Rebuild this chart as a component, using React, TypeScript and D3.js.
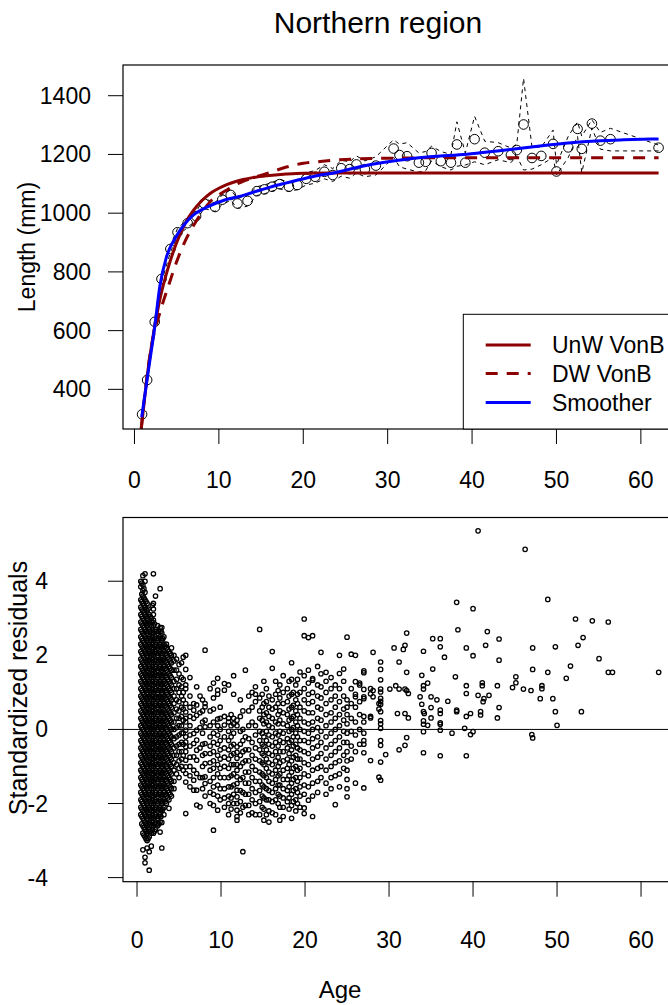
import React from 'react';
import * as d3 from 'd3';

// mean length at age (circles) with upper / lower bounds (dashed)
const meanAge = [0.9, 1.5, 2.4, 3.2, 4.25, 5.1, 6.3, 7.3, 8.25, 9.55, 10.4, 11.4, 12.2, 13.4, 14.5, 15.4, 16.3, 17.2, 18.3, 19.3,
  20.35, 21.4, 22.5, 23.5, 24.5, 25.5, 26.3, 27.3, 28.6, 30.7, 31.4, 32.3, 33.7, 34.5, 35.2, 36.3, 37.5, 38.2, 39.2, 40.3,
  41.5, 43.1, 44.6, 45.3, 46.1, 47.1, 48.2, 49.6, 50.0, 51.4, 52.5, 53.0, 54.2, 55.2, 56.4, 62.1];
const meanLen = [315, 432, 630, 776, 878, 935, 966, 990, 1033, 1021, 1046, 1062, 1033, 1042, 1075, 1081, 1090, 1099, 1090, 1096,
  1117, 1124, 1141, 1130, 1153, 1150, 1166, 1150, 1162, 1220, 1198, 1194, 1172, 1175, 1205, 1177, 1172, 1234, 1172, 1252,
  1206, 1211, 1198, 1215, 1302, 1188, 1195, 1236, 1142, 1224, 1287, 1219, 1305, 1247, 1252, 1223];
const upperLen = [322, 440, 640, 786, 890, 948, 980, 1005, 1050, 1036, 1062, 1080, 1050, 1060, 1090, 1096, 1105, 1115, 1106, 1112,
  1138, 1145, 1165, 1152, 1180, 1175, 1195, 1178, 1192, 1250, 1235, 1240, 1205, 1210, 1228, 1210, 1200, 1311, 1205, 1330,
  1245, 1240, 1222, 1235, 1459, 1225, 1225, 1283, 1165, 1262, 1311, 1262, 1318, 1275, 1289, 1232];
const lowerLen = [308, 424, 620, 766, 866, 922, 952, 975, 1016, 1006, 1030, 1044, 1016, 1024, 1060, 1066, 1075, 1083, 1074, 1080,
  1096, 1102, 1117, 1108, 1126, 1119, 1137, 1124, 1130, 1190, 1158, 1150, 1140, 1145, 1178, 1158, 1147, 1160, 1164, 1175,
  1165, 1182, 1172, 1195, 1147, 1150, 1165, 1190, 1130, 1190, 1262, 1138, 1290, 1218, 1212, 1212];

// fitted curves
const unwAge = [0.8, 1.2, 1.6, 2, 2.5, 3, 4, 5, 6, 7, 8, 9, 10, 11, 12, 14, 16, 18, 20, 25, 30, 62.1];
const unwLen = [265, 370, 465, 545, 630, 705, 815, 900, 965, 1010, 1043, 1068, 1085, 1098, 1108, 1121, 1128, 1133, 1136, 1137, 1137, 1137];
const dwAge = [0.8, 1.2, 1.6, 2, 3, 4, 5, 6, 7, 8, 9, 10, 11, 12, 13, 14, 16, 18, 20, 22, 25, 30, 40, 62.1];
const dwLen = [267, 375, 470, 545, 660, 750, 835, 905, 958, 1003, 1040, 1062, 1080, 1097, 1110, 1120, 1138, 1157, 1170, 1176, 1183, 1187, 1189, 1189];
const smoAge = [0.85, 1.6, 2.4, 3, 3.8, 4.8, 6, 7, 8.7, 10.7, 12.3, 13.7, 16, 17.6, 20.4, 22, 23.6, 27, 31.5, 35, 39.4, 43, 47.3, 51, 55.2, 58, 62.1];
const smoLen = [305, 455, 613, 750, 852, 914, 965, 994, 1022, 1045, 1056, 1068, 1088, 1100, 1120, 1130, 1137, 1160, 1181, 1192, 1201, 1212, 1226, 1238, 1247, 1250, 1253];

const legendLabels = ['UnW VonB', 'DW VonB', 'Smoother'];
const topYTicks = [400, 600, 800, 1000, 1200, 1400];
const ageTicks = [0, 10, 20, 30, 40, 50, 60];
const residTicks = [-4, -2, 0, 2, 4];

// standardized residuals, young ages (heavily overplotted columns)
const youngResid: [number, string][] = [
  [0.45, '4.0 3.85 3.5 3.3 3.1 2.9 2.7 2.5 2.3 2.1 1.9 1.7 1.5 1.3 1.1 0.9 0.7 0.5 0.3 0.1 -0.1 -0.3 -0.5 -0.7 -0.9 -1.1 -1.3 -1.5 -1.7 -1.9 -2.1 -2.3'],
  [0.57, '3.95 3.65 3.45 3.25 3.05 2.85 2.65 2.45 2.25 2.05 1.85 1.65 1.45 1.25 1.05 0.85 0.65 0.45 0.25 0.05 -0.15 -0.35 -0.55 -0.75 -0.95 -1.15 -1.35 -1.55 -1.75 -1.95 -2.15 -2.35 -2.55'],
  [0.7, '4.15 3.9 3.75 3.6 3.4 3.2 3.0 2.8 2.6 2.4 2.2 2.0 1.8 1.6 1.4 1.2 1.0 0.8 0.6 0.4 0.2 0.0 -0.2 -0.4 -0.6 -0.8 -1.0 -1.2 -1.4 -1.6 -1.8 -2.0 -2.2 -2.4 -2.6 -2.8 -3.25'],
  [0.82, '3.8 3.55 3.35 3.15 2.95 2.75 2.55 2.35 2.15 1.95 1.75 1.55 1.35 1.15 0.95 0.75 0.55 0.35 0.15 -0.05 -0.25 -0.45 -0.65 -0.85 -1.05 -1.25 -1.45 -1.65 -1.85 -2.05 -2.25 -2.45 -2.65 -2.85'],
  [0.95, '4.2 4.0 3.7 3.5 3.3 3.1 2.9 2.7 2.5 2.3 2.1 1.9 1.7 1.5 1.3 1.1 0.9 0.7 0.5 0.3 0.1 -0.1 -0.3 -0.5 -0.7 -0.9 -1.1 -1.3 -1.5 -1.7 -1.9 -2.1 -2.3 -2.5 -2.7 -2.9 -3.45 -3.6'],
  [1.07, '3.45 3.25 3.05 2.85 2.65 2.45 2.25 2.05 1.85 1.65 1.45 1.25 1.05 0.85 0.65 0.45 0.25 0.05 -0.15 -0.35 -0.55 -0.75 -0.95 -1.15 -1.35 -1.55 -1.75 -1.95 -2.15 -2.35 -2.55 -2.75 -2.95'],
  [1.2, '3.4 3.2 3.0 2.8 2.6 2.4 2.2 2.0 1.8 1.6 1.4 1.2 1.0 0.8 0.6 0.4 0.2 0.0 -0.2 -0.4 -0.6 -0.8 -1.0 -1.2 -1.4 -1.6 -1.8 -2.0 -2.2 -2.4 -2.6 -2.8 -3.0 -3.2'],
  [1.32, '3.25 3.05 2.85 2.65 2.45 2.25 2.05 1.85 1.65 1.45 1.25 1.05 0.85 0.65 0.45 0.25 0.05 -0.15 -0.35 -0.55 -0.75 -0.95 -1.15 -1.35 -1.55 -1.75 -1.95 -2.15 -2.35 -2.55 -2.75 -2.95'],
  [1.45, '3.1 2.9 2.7 2.5 2.3 2.1 1.9 1.7 1.5 1.3 1.1 0.9 0.7 0.5 0.3 0.1 -0.1 -0.3 -0.5 -0.7 -0.9 -1.1 -1.3 -1.5 -1.7 -1.9 -2.1 -2.3 -2.5 -2.7 -2.9 -3.3 -3.8'],
  [1.57, '3.05 2.85 2.65 2.45 2.25 2.05 1.85 1.65 1.45 1.25 1.05 0.85 0.65 0.45 0.25 0.05 -0.15 -0.35 -0.55 -0.75 -0.95 -1.15 -1.35 -1.55 -1.75 -1.95 -2.15 -2.35 -2.55 -2.75'],
  [1.7, '3.0 2.8 2.6 2.4 2.2 2.0 1.8 1.6 1.4 1.2 1.0 0.8 0.6 0.4 0.2 0.0 -0.2 -0.4 -0.6 -0.8 -1.0 -1.2 -1.4 -1.6 -1.8 -2.0 -2.2 -2.4 -2.6 -2.8 -3.15'],
  [1.82, '3.35 2.9 2.7 2.5 2.3 2.1 1.9 1.7 1.5 1.3 1.1 0.9 0.7 0.5 0.3 0.1 -0.1 -0.3 -0.5 -0.7 -0.9 -1.1 -1.3 -1.5 -1.7 -1.9 -2.1 -2.3 -2.5 -2.7'],
  [1.95, '4.2 3.4 3.25 3.1 2.95 2.8 2.6 2.4 2.2 2.0 1.8 1.6 1.4 1.2 1.0 0.8 0.6 0.4 0.2 0.0 -0.2 -0.4 -0.6 -0.8 -1.0 -1.2 -1.4 -1.6 -1.8 -2.0 -2.2 -2.4 -2.6 -2.8'],
  [2.07, '2.85 2.65 2.45 2.25 2.05 1.85 1.65 1.45 1.25 1.05 0.85 0.65 0.45 0.25 0.05 -0.15 -0.35 -0.55 -0.75 -0.95 -1.15 -1.35 -1.55 -1.75 -1.95 -2.15 -2.35 -2.55 -2.75'],
  [2.2, '3.6 2.7 2.5 2.3 2.1 1.9 1.7 1.5 1.3 1.1 0.9 0.7 0.5 0.3 0.1 -0.1 -0.3 -0.5 -0.7 -0.9 -1.1 -1.3 -1.5 -1.7 -1.9 -2.1 -2.3 -2.5 -2.7'],
  [2.32, '2.65 2.45 2.25 2.05 1.85 1.65 1.45 1.25 1.05 0.85 0.65 0.45 0.25 0.05 -0.15 -0.35 -0.55 -0.75 -0.95 -1.15 -1.35 -1.55 -1.75 -1.95 -2.15 -2.35 -2.55'],
  [2.45, '2.8 2.6 2.4 2.2 2.0 1.8 1.6 1.4 1.2 1.0 0.8 0.6 0.4 0.2 0.0 -0.2 -0.4 -0.6 -0.8 -1.0 -1.2 -1.4 -1.6 -1.8 -2.0 -2.2 -2.4 -2.6'],
  [2.6, '2.65 2.45 2.25 2.05 1.85 1.65 1.45 1.25 1.05 0.85 0.65 0.45 0.25 0.05 -0.15 -0.35 -0.55 -0.75 -0.95 -1.15 -1.35 -1.55 -1.75 -1.95 -2.15 -2.35 -2.55'],
  [2.75, '3.8 2.75 2.5 2.3 2.1 1.9 1.7 1.5 1.3 1.1 0.9 0.7 0.5 0.3 0.1 -0.1 -0.3 -0.5 -0.7 -0.9 -1.1 -1.3 -1.5 -1.7 -1.9 -2.1 -2.3 -2.5 -2.77'],
  [2.85, '2.65 2.45 2.25 2.05 1.85 1.65 1.45 1.25 1.05 0.85 0.65 0.45 0.25 0.05 -0.15 -0.35 -0.55 -0.75 -0.95 -1.15 -1.35 -1.55 -1.75 -1.95 -2.15 -2.35'],
  [2.95, '2.75 2.6 2.4 2.2 2.0 1.8 1.6 1.4 1.2 1.0 0.8 0.6 0.4 0.2 0.0 -0.2 -0.4 -0.6 -0.8 -1.0 -1.2 -1.4 -1.6 -1.8 -2.0 -2.2 -2.51 -3.2'],
  [3.07, '2.45 2.25 2.05 1.85 1.65 1.45 1.25 1.05 0.85 0.65 0.45 0.25 0.05 -0.15 -0.35 -0.55 -0.75 -0.95 -1.15 -1.35 -1.55 -1.75 -1.95 -2.15'],
  [3.2, '2.5 2.3 2.1 1.9 1.7 1.5 1.3 1.1 0.9 0.7 0.5 0.3 0.1 -0.1 -0.3 -0.5 -0.7 -0.9 -1.1 -1.3 -1.5 -1.7 -1.9 -2.1 -2.3'],
  [3.35, '2.25 2.05 1.85 1.65 1.45 1.25 1.05 0.85 0.65 0.45 0.25 0.05 -0.15 -0.35 -0.55 -0.75 -0.95 -1.15 -1.35 -1.55 -1.75 -1.95'],
  [3.5, '2.3 2.2 2.0 1.8 1.6 1.4 1.2 1.0 0.8 0.6 0.4 0.2 0.0 -0.2 -0.4 -0.6 -0.8 -1.0 -1.2 -1.4 -1.6 -1.8 -2.0'],
  [3.65, '2.15 1.95 1.75 1.55 1.35 1.15 0.95 0.75 0.55 0.35 0.15 -0.05 -0.25 -0.45 -0.65 -0.85 -1.05 -1.25 -1.45 -1.65 -1.85'],
  [3.8, '2.1 1.9 1.7 1.5 1.3 1.1 0.9 0.7 0.5 0.3 0.1 -0.1 -0.3 -0.5 -0.7 -0.9 -1.1 -1.3 -1.5 -1.7 -1.9 -2.13'],
  [3.95, '2.05 1.85 1.65 1.45 1.25 1.05 0.85 0.65 0.45 0.25 0.05 -0.15 -0.35 -0.55 -0.75 -0.95 -1.15 -1.35 -1.55 -1.75'],
  [4.1, '2.2 2.0 1.8 1.6 1.4 1.2 1.0 0.8 0.6 0.4 0.2 0.0 -0.2 -0.4 -0.6 -0.8 -1.0 -1.2 -1.4 -1.6 -1.8'],
  [4.4, '2.0 1.85 1.6 1.3 1.1 0.9 0.7 0.45 0.2 0.0 -0.25 -0.5 -0.7 -0.9 -1.1 -1.4 -1.6'],
  [4.7, '1.9 1.6 1.35 1.1 0.8 0.55 0.3 0.05 -0.2 -0.45 -0.7 -0.95 -1.2'],
  [5.0, '1.75 1.5 1.2 1.0 0.75 0.5 0.3 0.1 -0.15 -0.4 -0.6 -0.85 -1.05 -1.3'],
  [5.3, '1.8 1.4 1.15 0.9 0.6 0.35 0.1 -0.1 -0.35 -0.6 -0.8 -1.0'],
];

// residuals, ages 5.5 - 30
const midResid: [number, string][] = [
  [5.5, '1.95 1.35 1.0 0.8 0.55 0.25 -0.1 -0.4 -0.7 -1.1'],
  [5.8, '2.0 1.62 1.2 1.1 0.7 0.47 0.3 0.2 -0.02 -0.2 -0.34 -0.47 -0.6 -0.83 -1.01 -1.19 -1.42 -2.27'],
  [6.3, '1.4 0.9 0.6 0.35 0.1 -0.15 -0.45 -0.75 -1.0 -1.25 -1.55'],
  [6.75, '0.7 0.52 0.3 -0.11 -0.38 -0.74 -1.1 -1.37 -1.64'],
  [7.1, '1.15 0.66 0.38 -0.02 -0.29 -0.56 -0.83 -1.19 -1.64 -2.04'],
  [7.5, '0.9 0.45 0.05 -0.5 -1.3 -2.09'],
  [7.8, '0.8 0.5 0.2 -0.1 -0.4 -0.7 -1.0 -1.3 -1.6'],
  [8.1, '2.14 0.7 0.61 0.25 0.07 -0.38 -0.65 -0.92 -1.28 -1.46 -1.8'],
  [8.7, '1.1 0.5 0.1 -0.2 -0.45 -0.65 -0.9 -1.1 -1.4 -1.7 -2.0'],
  [9.1, '1.25 0.85 0.55 0.2 -0.1 -0.35 -0.6 -0.85 -1.05 -1.3 -1.55 -1.75 -2.05 -2.72'],
  [9.6, '1.38 1.06 0.95 0.28 0.1 -0.15 -0.4 -0.7 -0.95 -1.2 -1.5 -1.8 -2.18'],
  [9.9, '0.6 0.3 0.0 -0.3 -0.55 -0.8 -1.05 -1.3 -1.6 -1.9'],
  [10.4, '1.24 1.06 0.35 0.12 -0.2 -0.5 -0.75 -1.0 -1.3 -1.6 -1.85 -2.1'],
  [10.9, '1.2 0.3 0.2 -0.05 -0.3 -0.55 -0.8 -1.05 -1.3 -1.55 -1.8 -2.0 -2.3'],
  [11.2, '0.4 0.1 -0.2 -0.45 -0.7 -0.95 -1.25 -1.55 -1.85 -2.15'],
  [11.5, '1.45 0.95 0.3 0.15 -0.1 -0.4 -0.65 -0.95 -1.2 -1.5 -1.75 -2.0'],
  [11.9, '0.25 0.1 -0.47 -0.62 -0.78 -0.95 -1.1 -1.28 -1.46 -1.64 -1.82 -2.0 -2.18 -2.35 -2.45'],
  [12.3, '0.8 0.35 -0.05 -0.4 -0.7 -1.0 -1.35 -1.65 -1.95 -2.25'],
  [12.6, '0.5 0.0 -0.3 -0.6 -0.9 -1.3 -1.7 -2.1 -3.3'],
  [12.9, '1.6 -0.2 -0.55 -0.85 -1.15 -1.45 -1.75 -2.05'],
  [13.3, '0.9 0.5 0.1 -0.25 -0.55 -0.85 -1.15 -1.45 -1.75 -2.05 -2.3'],
  [13.7, '1.0 0.6 0.2 -0.35 -0.7 -1.0 -1.3 -1.6 -1.9 -2.25'],
  [14.1, '1.15 0.95 0.75 0.1 -0.15 -0.5 -0.8 -1.1 -1.4 -1.7 -2.0 -2.3'],
  [14.6, '2.7 0.85 0.5 0.3 -0.05 -0.3 -0.55 -0.85 -1.15 -1.4 -1.65 -1.95 -2.3'],
  [14.9, '0.95 0.6 0.25 -0.1 -0.4 -0.65 -0.9 -1.2 -1.5 -1.8 -2.1'],
  [15.1, '1.3 0.7 0.4 0.15 -0.2 -0.45 -0.7 -0.95 -1.25 -1.55 -1.85 -2.15 -2.45'],
  [15.4, '1.1 0.75 0.45 0.2 -0.05 -0.3 -0.55 -0.8 -1.05 -1.3 -1.6 -1.9 -2.3'],
  [15.7, '0.9 0.6 0.35 0.1 -0.15 -0.4 -0.65 -0.9 -1.15 -1.4 -1.65 -1.9 -2.2 -2.5'],
  [16.1, '2.1 1.65 0.8 0.55 0.3 0.05 -0.2 -0.45 -0.7 -0.95 -1.2 -1.45 -1.7 -1.95 -2.25'],
  [16.5, '1.3 0.95 0.6 0.2 -0.1 -0.35 -0.6 -0.85 -1.1 -1.35 -1.6 -1.9 -2.3'],
  [16.8, '1.05 0.7 0.4 0.15 -0.15 -0.45 -0.75 -1.0 -1.25 -1.5 -1.75 -2.0'],
  [17.0, '1.2 0.85 0.5 0.25 -0.05 -0.3 -0.6 -0.9 -1.2 -1.5 -1.8 -2.1 -2.45'],
  [17.4, '1.45 1.0 0.7 0.45 0.15 -0.1 -0.35 -0.6 -0.85 -1.1 -1.35 -1.6 -1.85 -2.1 -2.35'],
  [17.9, '1.1 0.75 0.4 0.1 -0.25 -0.5 -0.8 -1.05 -1.35 -1.65 -1.95'],
  [18.1, '1.3 0.9 0.55 0.25 -0.05 -0.35 -0.65 -0.95 -1.25 -1.55 -1.85 -2.15'],
  [18.4, '1.8 1.35 0.95 0.6 0.3 0.0 -0.3 -0.55 -0.85 -1.15 -1.45 -1.75 -2.05 -2.4'],
  [18.6, '1.0 0.65 0.35 0.05 -0.2 -0.45 -0.75 -1.05 -1.35 -1.65 -1.95'],
  [18.9, '1.2 0.8 0.5 0.2 -0.1 -0.4 -0.7 -1.0 -1.3 -1.6 -1.9 -2.2'],
  [19.1, '1.35 0.95 0.7 0.4 0.1 -0.2 -0.5 -0.8 -1.1 -1.4 -1.7 -2.0'],
  [19.4, '1.55 1.0 0.6 0.3 0.0 -0.3 -0.55 -0.8 -1.05 -1.3 -1.55 -1.8 -2.1'],
  [19.9, '2.98 2.53 1.45 1.1 0.8 0.5 0.2 -0.05 -0.3 -0.6 -0.9 -1.2 -1.5 -1.75 -2.12 -2.27'],
  [20.4, '2.48 1.6 1.25 0.95 0.7 0.45 0.15 -0.1 -0.35 -0.65 -0.95 -1.25 -1.55 -1.91'],
  [20.9, '2.53 1.37 1.33 1.0 0.75 0.45 0.2 0.0 -0.25 -0.5 -0.8 -1.1 -1.45 -1.8 -2.35'],
  [21.5, '1.7 1.2 0.9 0.6 0.3 0.05 -0.2 -0.45 -0.75 -1.05 -1.4 -1.7'],
  [21.9, '2.08 1.5 1.15 0.85 0.55 0.25 -0.05 -0.35 -0.65 -1.0 -1.3'],
  [22.5, '1.54 1.3 1.0 0.7 0.4 0.1 -0.2 -0.5 -0.8 -1.1 -1.45 -1.75'],
  [23.1, '1.4 1.1 0.8 0.45 0.2 -0.1 -0.4 -0.7 -1.0 -1.3 -1.6'],
  [23.6, '1.2 0.9 0.6 0.3 0.0 -0.3 -0.6 -0.9 -1.25 -2.03'],
  [24.1, '2.0 1.51 1.1 0.75 0.4 0.1 -0.2 -0.5 -0.85 -1.2 -1.55'],
  [24.6, '1.63 1.3 0.9 0.55 0.25 -0.05 -0.35 -0.7 -1.05'],
  [25.0, '2.49 0.8 0.6 0.4 0.15 -0.1 -0.35 -0.6 -0.85 -1.1 -1.35 -1.6 -1.82'],
  [25.5, '2.03 1.1 0.7 0.3 -0.05 -0.45 -0.8'],
  [26.0, '2.0 1.29 0.95 0.88 0.6 0.2 -0.15 -0.6 -1.45'],
  [26.5, '1.25 1.2 0.75 0.4 0.0 -0.4'],
  [27.0, '1.58 1.53 1.08 0.88 0.83 0.35 0.2 -0.1 -0.3 -0.4 -0.63 -1.58'],
  [27.8, '1.1 0.96 0.35 0.31 -0.84'],
  [28.1, '2.08 1.05 0.88'],
  [28.8, '0.7 0.55 -1.29'],
  [29.0, '1.82 1.62 1.34 1.09 1.01 0.84 0.76 0.68 0.48 0.24 0.15 0.03 -0.3 -0.43 -0.88 -1.37'],
  [29.6, '-0.68'],
];

// residuals, older fish (individual points)
const oldResid: [number, number][] = [
  [30.1, 1.09], [30.6, 2.2], [30.8, 1.18], [31.0, 0.43], [31.2, 1.82], [31.2, 1.09], [31.2, -0.55], [31.7, 2.16], [31.9, 2.27],
  [31.9, 1.09], [31.9, 0.43], [31.9, -0.43], [32.1, 2.6], [32.1, 1.54], [32.1, 1.05], [32.1, -0.22], [32.3, 0.97], [32.3, 0.31],
  [33.7, 0.88], [33.9, 1.46], [33.9, 0.68], [34.1, 2.11], [34.1, 1.18], [34.1, 1.09], [34.1, 0.48], [34.1, 0.23], [34.1, 0.14],
  [34.1, -0.06], [34.1, -0.63], [34.2, 0.43], [34.6, 0.11], [34.6, 1.25], [35.0, 0.88], [35.0, 0.59], [35.0, 0.31], [35.2, 2.45],
  [35.2, 1.63], [35.7, 0.8], [36.1, 2.45], [36.1, 2.23], [36.1, 0.52], [36.1, 0.43], [36.1, 0.18], [36.1, 0.14], [36.1, -0.02],
  [36.1, -0.71], [36.6, 1.95], [37.0, 0.76], [37.5, -0.1], [37.9, 1.42], [38.05, 3.43], [38.05, 0.52], [38.05, 0.48], [38.2, 2.69],
  [39.0, 0.03], [39.2, 2.2], [39.2, 1.18], [39.2, 0.97], [39.2, 0.35], [39.2, -0.71], [39.7, 0.43], [39.7, -0.14], [40.0, 3.26],
  [40.0, 1.99], [40.0, -0.06], [40.6, 5.36], [40.6, 0.92], [40.9, 0.48], [40.9, 0.39], [41.1, 1.26], [41.1, 1.18], [41.2, 0.75],
  [41.3, 0.83], [41.5, 2.27], [41.7, 2.64], [41.9, 0.92], [42.9, 1.18], [42.9, 0.31], [43.1, 2.44], [43.1, 1.87], [43.1, 0.59],
  [44.7, 1.13], [45.1, 1.26], [45.1, 1.42], [46.0, 1.09], [46.2, 4.86], [46.9, 1.05], [47.0, -0.14], [47.1, -0.23], [47.1, 2.2],
  [47.1, 1.62], [48.0, 0.83], [48.2, 1.18], [48.2, 1.1], [48.9, 3.51], [48.9, 1.54], [49.5, 0.83], [49.8, 2.23], [49.8, 0.48],
  [50.0, 0.11], [51.1, 1.38], [51.6, 1.71], [52.2, 2.98], [52.5, 2.27], [52.9, 0.48], [53.1, 2.48], [54.2, 2.93], [55.0, 1.91],
  [56.1, 2.9], [56.1, 1.54], [56.6, 1.54], [62.1, 1.54],
];

const FONT = 'Liberation Sans, Arial, Helvetica, sans-serif';
const DARKRED = '#8B0000';

const App = () => {
  // top panel scales
  const xTop = d3.scaleLinear().domain([-1.36, 64.4]).range([123, 678]);
  const yTop = d3.scaleLinear().domain([265, 1504.6]).range([429, 65]);
  // bottom panel scales
  const xBot = d3.scaleLinear().domain([-1.67, 64.4]).range([123, 678]);
  const yBot = d3.scaleLinear().domain([-4.11, 5.72]).range([881.7, 517.5]);

  const pairs = (a: number[], b: number[]) => a.map((v, i) => [v, b[i]] as [number, number]);

  const smoothLine = d3.line<[number, number]>()
    .x(d => xTop(d[0]))
    .y(d => yTop(d[1]))
    .curve(d3.curveMonotoneX);
  const straightLine = d3.line<[number, number]>()
    .x(d => xTop(d[0]))
    .y(d => yTop(d[1]));

  const residPts: [number, number][] = [
    ...youngResid.flatMap(([a, s]) => s.split(' ').map(v => [a, +v] as [number, number])),
    ...midResid.flatMap(([a, s]) => s.split(' ').map(v => [a, +v] as [number, number])),
    ...oldResid,
  ];

  const [tx0, tx1] = xTop.range();
  const [ty0, ty1] = [yTop.range()[1], yTop.range()[0]];
  const [bx0, bx1] = xBot.range();
  const [by0, by1] = [yBot.range()[1], yBot.range()[0]];

  // legend box placed at bottom-right of the top panel
  const legX = 463.3;
  const legTop = 314.3;
  const legRows = [345, 373.5, 402.5];
  const legStyles = [
    { stroke: DARKRED, dash: undefined },
    { stroke: DARKRED, dash: '12,9' },
    { stroke: '#0000FF', dash: undefined },
  ];

  return (
    <svg width={668} height={1005} style={{ position: 'absolute', left: 0, top: 0, background: '#fff' }}
      fontFamily={FONT}>
      <defs>
        <clipPath id="clipTop"><rect x={tx0} y={ty0} width={tx1 - tx0} height={ty1 - ty0} /></clipPath>
        <clipPath id="clipBot"><rect x={bx0} y={by0} width={bx1 - bx0} height={by1 - by0} /></clipPath>
      </defs>
      <rect width={668} height={1005} fill="#fff" />

      <text x={378} y={33} fontSize={30} textAnchor="middle">Northern region</text>

      {/* ---- top panel ---- */}
      <g clipPath="url(#clipTop)">
        <path d={straightLine(pairs(meanAge, upperLen)) || ''} fill="none" stroke="#000" strokeWidth={1} strokeDasharray="4,4" />
        <path d={straightLine(pairs(meanAge, lowerLen)) || ''} fill="none" stroke="#000" strokeWidth={1} strokeDasharray="4,4" />
        {meanAge.map((a, i) => (
          <circle key={i} cx={xTop(a)} cy={yTop(meanLen[i])} r={4.8} fill="none" stroke="#000" strokeWidth={1} />
        ))}
        <path d={smoothLine(pairs(unwAge, unwLen)) || ''} fill="none" stroke={DARKRED} strokeWidth={3} />
        <path d={smoothLine(pairs(dwAge, dwLen)) || ''} fill="none" stroke={DARKRED} strokeWidth={3} strokeDasharray="12,9" />
        <path d={smoothLine(pairs(smoAge, smoLen)) || ''} fill="none" stroke="#0000FF" strokeWidth={3} />
      </g>
      <rect x={tx0} y={ty0} width={tx1 - tx0} height={ty1 - ty0} fill="none" stroke="#000" strokeWidth={1.2} />

      {topYTicks.map(t => (
        <g key={t}>
          <line x1={tx0 - 15} x2={tx0} y1={yTop(t)} y2={yTop(t)} stroke="#000" strokeWidth={1} />
          <text x={91} y={yTop(t)} dy="0.35em" fontSize={23} textAnchor="end">{t}</text>
        </g>
      ))}
      {ageTicks.map(t => (
        <g key={t}>
          <line x1={xTop(t)} x2={xTop(t)} y1={ty1} y2={ty1 + 15} stroke="#000" strokeWidth={1} />
          <text x={xTop(t)} y={488} fontSize={23} textAnchor="middle">{t}</text>
        </g>
      ))}
      <text transform={`translate(35,${(ty0 + ty1) / 2}) rotate(-90)`} fontSize={23} textAnchor="middle">Length (mm)</text>

      {/* legend */}
      <rect x={legX} y={legTop} width={tx1 - legX} height={ty1 - legTop} fill="#fff" stroke="#000" strokeWidth={1} />
      {legendLabels.map((lab, i) => (
        <g key={lab}>
          <line x1={485.7} x2={530.7} y1={legRows[i]} y2={legRows[i]} stroke={legStyles[i].stroke}
            strokeWidth={3} strokeDasharray={legStyles[i].dash} />
          <text x={552} y={legRows[i]} dy="0.35em" fontSize={23}>{lab}</text>
        </g>
      ))}

      {/* ---- bottom panel ---- */}
      <g clipPath="url(#clipBot)">
        <line x1={bx0} x2={bx1} y1={yBot(0)} y2={yBot(0)} stroke="#000" strokeWidth={1} />
        {residPts.map((p, i) => (
          <circle key={i} cx={xBot(p[0])} cy={yBot(p[1])} r={2.2} fill="none" stroke="#000" strokeWidth={1.3} />
        ))}
      </g>
      <rect x={bx0} y={by0} width={bx1 - bx0} height={by1 - by0} fill="none" stroke="#000" strokeWidth={1.2} />

      {residTicks.map(t => (
        <g key={t}>
          <line x1={bx0 - 15} x2={bx0} y1={yBot(t)} y2={yBot(t)} stroke="#000" strokeWidth={1} />
          <text x={48} y={yBot(t)} dy="0.35em" fontSize={23} textAnchor="end">{t}</text>
        </g>
      ))}
      {ageTicks.map(t => (
        <g key={t}>
          <line x1={xBot(t)} x2={xBot(t)} y1={by1} y2={by1 + 15} stroke="#000" strokeWidth={1} />
          <text x={xBot(t)} y={948} fontSize={23} textAnchor="middle">{t}</text>
        </g>
      ))}
      <text transform={`translate(27,688) rotate(-90)`} fontSize={25} textAnchor="middle">Standardized residuals</text>
      <text x={340} y={998} fontSize={24} textAnchor="middle">Age</text>
    </svg>
  );
};

export default App;
